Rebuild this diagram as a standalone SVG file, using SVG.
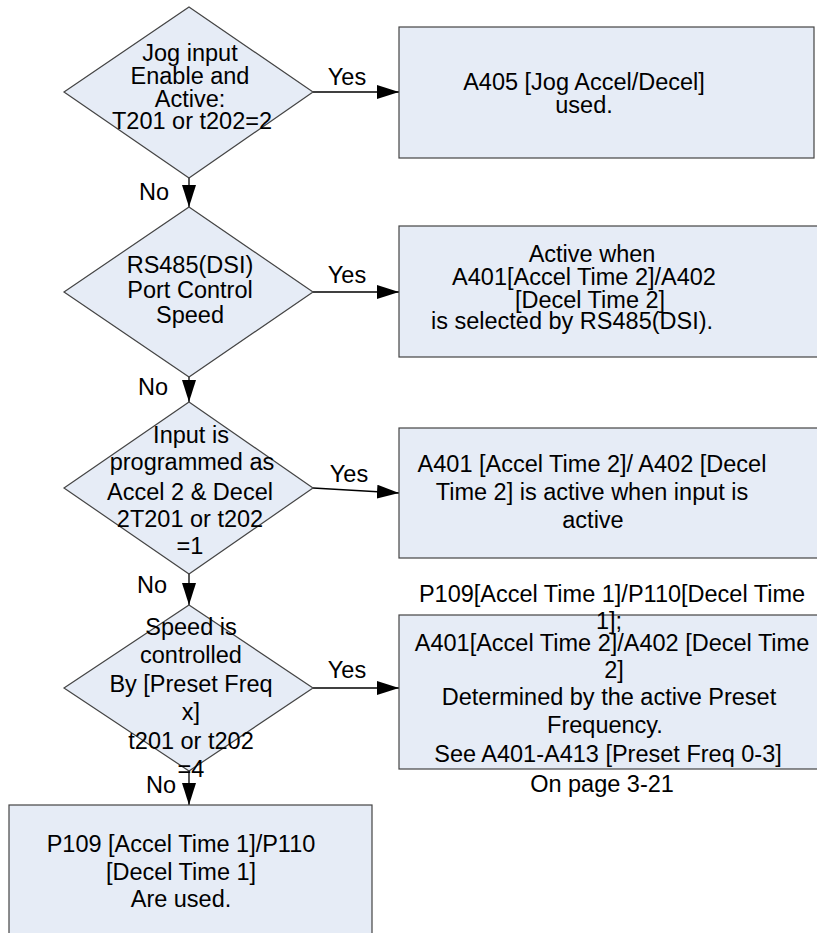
<svg xmlns="http://www.w3.org/2000/svg" width="817" height="933" viewBox="0 0 817 933">
<style>
.shape{fill:#e6ecf6;stroke:#444;stroke-width:1.2}
.t{font-family:"Liberation Sans",Arial,sans-serif;font-size:23.5px;fill:#000;text-anchor:middle}
.c{stroke:#000;stroke-width:1.3;fill:none}
</style>
<defs>
<marker id="ah" markerUnits="userSpaceOnUse" markerWidth="22" markerHeight="14" refX="22" refY="7" orient="auto">
<path d="M0,0 L22,7 L0,14 z" fill="#000"/>
</marker>
</defs>
<rect width="817" height="933" fill="#fff"/>
<g id="connectors">
<line class="c" x1="189" y1="178" x2="189" y2="207" marker-end="url(#ah)"/>
<line class="c" x1="189" y1="377" x2="189" y2="402" marker-end="url(#ah)"/>
<line class="c" x1="189" y1="574" x2="189" y2="605" marker-end="url(#ah)"/>
<line class="c" x1="189" y1="771" x2="189" y2="805" marker-end="url(#ah)"/>
<line class="c" x1="313" y1="92" x2="399" y2="92" marker-end="url(#ah)"/>
<line class="c" x1="313" y1="292" x2="399" y2="292" marker-end="url(#ah)"/>
<line class="c" x1="313" y1="488" x2="399" y2="493" marker-end="url(#ah)"/>
<line class="c" x1="313" y1="688" x2="399" y2="688" marker-end="url(#ah)"/>
<text class="t" x="347" y="85">Yes</text>
<text class="t" x="347" y="283">Yes</text>
<text class="t" x="349" y="482">Yes</text>
<text class="t" x="347" y="678">Yes</text>
<text class="t" x="154" y="200">No</text>
<text class="t" x="153" y="395">No</text>
<text class="t" x="152" y="593">No</text>
<text class="t" x="161" y="793">No</text>
</g>
<g id="d1">
<polygon class="shape" points="189,7 313,92 189,178 64,92"/>
<text class="t" x="190" y="61">Jog input</text>
<text class="t" x="190" y="84">Enable and</text>
<text class="t" x="190" y="107">Active:</text>
<text class="t" x="192" y="129">T201 or t202=2</text>
</g>
<g id="b1">
<rect class="shape" x="399" y="27" width="415" height="131"/>
<text class="t" x="584" y="90">A405 [Jog Accel/Decel]</text>
<text class="t" x="584" y="113">used.</text>
</g>
<g id="d2">
<polygon class="shape" points="189,207 313,292 189,377 64,292"/>
<text class="t" x="190" y="273">RS485(DSI)</text>
<text class="t" x="190" y="298">Port Control</text>
<text class="t" x="190" y="323">Speed</text>
</g>
<g id="b2">
<rect class="shape" x="399" y="226" width="440" height="131"/>
<text class="t" x="592" y="262">Active when</text>
<text class="t" x="584" y="285">A401[Accel Time 2]/A402</text>
<text class="t" x="590" y="308">[Decel Time 2]</text>
<text class="t" x="572" y="329">is selected by RS485(DSI).</text>
</g>
<g id="d3">
<polygon class="shape" points="189,402 313,488 189,574 64,488"/>
<text class="t" x="191" y="443">Input is</text>
<text class="t" x="192" y="470">programmed as</text>
<text class="t" x="190" y="500">Accel 2 &amp; Decel</text>
<text class="t" x="190" y="527">2T201 or t202</text>
<text class="t" x="190" y="554">=1</text>
</g>
<g id="b3">
<rect class="shape" x="399" y="428" width="440" height="130"/>
<text class="t" x="592" y="472">A401 [Accel Time 2]/ A402 [Decel</text>
<text class="t" x="592" y="500">Time 2] is active when input is</text>
<text class="t" x="593" y="528">active</text>
</g>
<g id="d4">
<polygon class="shape" points="189,605 313,688 189,771 64,688"/>
<text class="t" x="191" y="635">Speed is</text>
<text class="t" x="191" y="663">controlled</text>
<text class="t" x="191" y="692">By [Preset Freq</text>
<text class="t" x="191" y="720">x]</text>
<text class="t" x="191" y="749">t201 or t202</text>
<text class="t" x="191" y="777">=4</text>
</g>
<g id="b4">
<rect class="shape" x="399" y="615" width="440" height="154"/>
<text class="t" x="612" y="602">P109[Accel Time 1]/P110[Decel Time</text>
<text class="t" x="609" y="629">1];</text>
<text class="t" x="612" y="651">A401[Accel Time 2]/A402 [Decel Time</text>
<text class="t" x="614" y="678">2]</text>
<text class="t" x="609" y="705">Determined by the active Preset</text>
<text class="t" x="605" y="733">Frequency.</text>
<text class="t" x="608" y="762">See A401-A413 [Preset Freq 0-3]</text>
<text class="t" x="602" y="792">On page 3-21</text>
</g>
<g id="b5">
<rect class="shape" x="9" y="805" width="363" height="130"/>
<text class="t" x="181" y="852">P109 [Accel Time 1]/P110</text>
<text class="t" x="181" y="880">[Decel Time 1]</text>
<text class="t" x="181" y="907">Are used.</text>
</g>
</svg>
